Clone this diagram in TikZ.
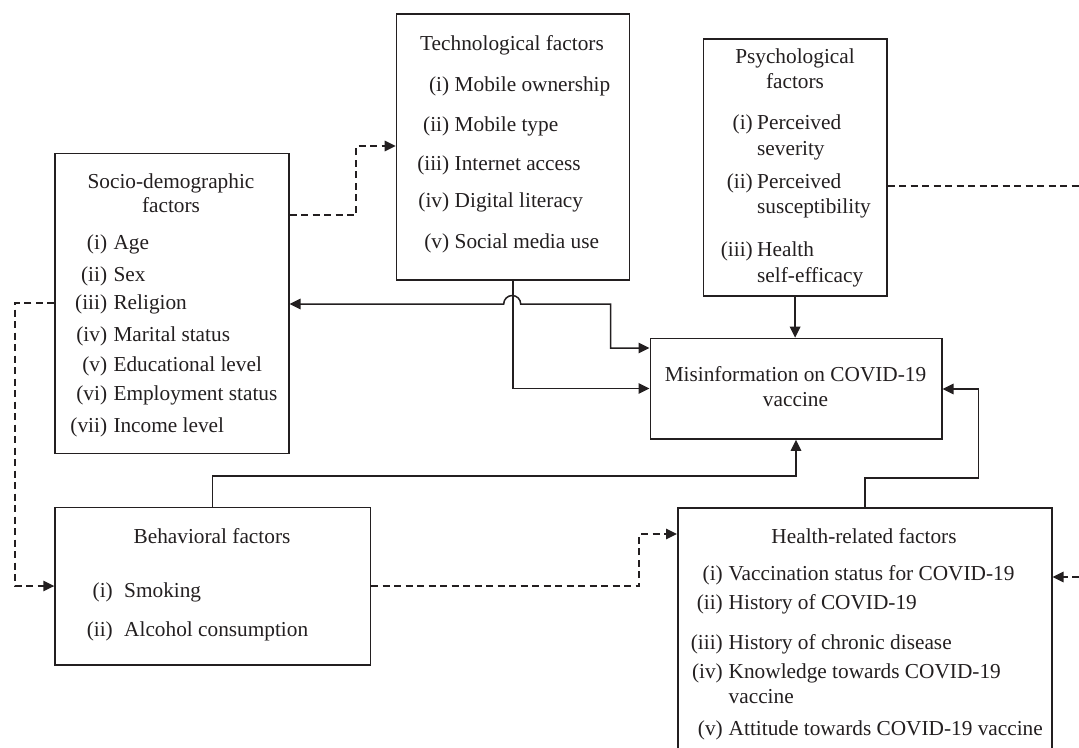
\documentclass[tikz,border=0pt]{standalone}
\usepackage{fontspec}
\setmainfont{Liberation Serif}
\usetikzlibrary{arrows.meta}
\definecolor{ink}{RGB}{35,31,32}
\tikzset{
  box/.style={draw=ink, line width=1.5pt, rectangle, inner sep=0pt, anchor=north west},
  txt/.style={inner sep=0pt, text=ink, font=\fontsize{21.3}{25}\selectfont},
  conn/.style={draw=ink, line width=1.5pt, -{Triangle[length=11pt,width=10.5pt]}},
  dconn/.style={conn, dash pattern=on 7pt off 4.5pt},
  dline/.style={draw=ink, line width=1.5pt, dash pattern=on 7pt off 4.5pt},
}
\newcommand\ttl[4]{\node[txt,anchor=base] (#1) at (#2,#3) {#4};}
\newcommand\itm[6]{\node[txt,anchor=base east] (#1l) at (#2,#4) {#5};\node[txt,anchor=base west] (#1t) at (#3,#4) {#6};}
\newcommand\cnt[4]{\node[txt,anchor=base west] (#1) at (#2,#3) {#4};}
\begin{document}
\begin{tikzpicture}[x=1pt,y=-1pt]
\clip (0,0) rectangle (1079,747);
\fill[white] (0,0) rectangle (1079,747);
% boxes
\node[box, minimum width=233.7pt, minimum height=300pt] (socio) at (54.3,152.7) {};
\node[box, minimum width=233pt, minimum height=266pt] (tech) at (395.7,13.3) {};
\node[box, minimum width=183.6pt, minimum height=257pt] (psych) at (702.6,38.3) {};
\node[box, minimum width=291.5pt, minimum height=100.6pt] (mis) at (649.5,337.7) {};
\node[box, minimum width=315.2pt, minimum height=157.3pt] (behav) at (54.3,506.7) {};
\node[box, minimum width=374pt, minimum height=280pt] (health) at (677,507) {};
\coordinate (rt1) at (1079,186);
\coordinate (rt2) at (1079,577);
% socio-demographic text
\ttl{s1}{171}{188.3}{Socio-demographic}
\ttl{s2}{171}{212}{factors}
\itm{sa}{107.3}{113.3}{249}{(i)}{Age}
\itm{sb}{107.3}{113.3}{281}{(ii)}{Sex}
\itm{sc}{107.3}{113.3}{309}{(iii)}{Religion}
\itm{sd}{107.3}{113.3}{341.7}{(iv)}{Marital status}
\itm{se}{107.3}{113.3}{371.7}{(v)}{Educational level}
\itm{sf}{107.3}{113.3}{400}{(vi)}{Employment status}
\itm{sg}{107.3}{113.3}{432.7}{(vii)}{Income level}
% technological text
\ttl{t1}{512}{50}{Technological factors}
\itm{ta}{449.4}{454.5}{91.7}{(i)}{Mobile ownership}
\itm{tb}{449.4}{454.5}{131}{(ii)}{Mobile type}
\itm{tc}{449.4}{454.5}{170.7}{(iii)}{Internet access}
\itm{td}{449.4}{454.5}{207.3}{(iv)}{Digital literacy}
\itm{te}{449.4}{454.5}{248.3}{(v)}{Social media use}
% psychological text
\ttl{p1}{795}{63.3}{Psychological}
\ttl{p2}{795}{88.3}{factors}
\itm{pa}{753}{757}{129.3}{(i)}{Perceived}
\cnt{pa2}{757}{155}{severity}
\itm{pb}{753}{757}{188.3}{(ii)}{Perceived}
\cnt{pb2}{757}{213.3}{susceptibility}
\itm{pc}{753}{757}{256.7}{(iii)}{Health}
\cnt{pc2}{757}{282.7}{self-efficacy}
% misinformation text
\ttl{m1}{795.5}{381}{Misinformation on COVID-19}
\ttl{m2}{795.5}{406}{vaccine}
% behavioral text
\ttl{b1}{212}{543.3}{Behavioral factors}
\itm{ba}{113}{124}{597.7}{(i)}{Smoking}
\itm{bb}{113}{124}{636}{(ii)}{Alcohol consumption}
% health text
\ttl{h1}{864}{543.3}{Health-related factors}
\itm{ha}{723}{728.5}{580}{(i)}{Vaccination status for COVID-19}
\itm{hb}{723}{728.5}{609.3}{(ii)}{History of COVID-19}
\itm{hc}{723}{728.5}{649.3}{(iii)}{History of chronic disease}
\itm{hd}{723}{728.5}{678.3}{(iv)}{Knowledge towards COVID-19}
\cnt{hd2}{728.5}{703.3}{vaccine}
\itm{he}{723}{728.5}{735}{(v)}{Attitude towards COVID-19 vaccine}
% connectors
\draw[dconn] (socio.east |- 0,215) -- (356,215) |- (tech.west |- 0,146);
\draw[conn, {Triangle[length=11pt,width=10.5pt]}-{Triangle[length=11pt,width=10.5pt]}]
  (socio.east |- 0,304) -- (503.7,304) arc[start angle=180, end angle=360, radius=8.5]
  -- (610.5,304) -- (610.5,348) -- (mis.west |- 0,348);
\draw[conn] (tech.south) -- (tech.south |- 0,388.5) -- (mis.west |- 0,388.5);
\draw[conn] (psych.south) -- (psych.south |- mis.north);
\draw[dline] (psych.east |- rt1) -- (rt1);
\draw[dconn] (rt2) -- (health.east |- rt2);
\draw[dconn] (socio.west |- 0,303) -- (15,303) -- (15,586) -- (behav.west |- 0,586);
\draw[conn] (behav.north) -- (behav.north |- 0,476) -| (mis.south);
\draw[dconn] (behav.east |- 0,586) -- (639,586) |- (health.west |- 0,534);
\draw[conn] (health.north) -- (health.north |- 0,478) -| (978.5,389) -- (mis.east |- 0,389);
\end{tikzpicture}
\end{document}
